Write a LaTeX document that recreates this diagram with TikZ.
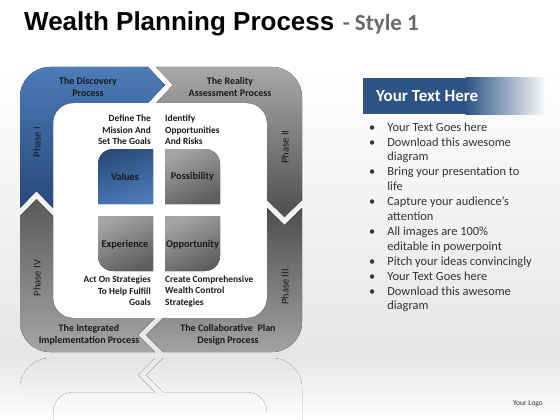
\documentclass[tikz,border=0pt]{standalone}
\usepackage{fontspec}
\setmainfont{Carlito}
\newfontfamily\titlefont{Liberation Sans}
\usepackage{tikz}
\usetikzlibrary{positioning}
\definecolor{inkdark}{HTML}{1A1A1A}
\definecolor{inkgray}{HTML}{333333}
\definecolor{titlegray}{HTML}{6A6A6A}
\definecolor{hdrblue}{HTML}{2E5385}
\definecolor{floorgray}{HTML}{E6E6E6}
\definecolor{blueA}{HTML}{4C7BB8}
\definecolor{blueB}{HTML}{28487A}
\definecolor{valuesA}{HTML}{2A4C7C}
\definecolor{valuesB}{HTML}{4C7AB8}
\definecolor{grayA}{HTML}{A8A8A8}
\definecolor{grayB}{HTML}{4E4E4E}
\definecolor{grayC}{HTML}{A2A2A2}
\definecolor{grayD}{HTML}{5A5A5A}
\definecolor{grayE}{HTML}{A5A5A5}
\definecolor{quadA}{HTML}{A4A4A4}
\definecolor{quadB}{HTML}{5E5E5E}
\tikzset{
  bandtext/.style={font=\bfseries\fontsize{10}{12.5}\selectfont, align=center, text=inkdark, inner sep=0pt},
  notetext/.style={font=\bfseries\fontsize{9.4}{11.5}\selectfont, text=inkdark, inner sep=0pt},
  quadtext/.style={font=\bfseries\fontsize{10.3}{12}\selectfont, text=inkdark, inner sep=0pt},
  phasetext/.style={font=\fontsize{10.5}{12}\selectfont, text=inkdark, rotate=90, inner sep=0pt}
}

\begin{document}
\begin{tikzpicture}[x=1pt, y=-1pt, line join=round]
    \useasboundingbox (0,0) rectangle (560,420);
    % backdrop
    \fill[top color=white, bottom color=floorgray] (0,60) rectangle (560,356);
    \fill[top color=floorgray, bottom color=white] (0,356) rectangle (560,420);
    % reflection of the lower half
    \fill[top color=gray!22, bottom color=white] (155,392) -- (138,375) -- (155,358) -- (50,358)
        arc[start angle=270, end angle=180, radius=30] -- (20,420) -- (53,420) -- (53,412)
        arc[start angle=180, end angle=270, radius=20] -- cycle;
    \fill[top color=gray!22, bottom color=white] (163,392) -- (146,375) -- (163,358) -- (272,358)
        arc[start angle=270, end angle=360, radius=30] -- (302,420) -- (267,420) -- (267,412)
        arc[start angle=0, end angle=-90, radius=20] -- cycle;
    % title
    \node[anchor=base west, inner sep=0pt] (title) at (24,31)
        {\titlefont\bfseries\fontsize{26}{30}\selectfont Wealth Planning Process};
    \node[anchor=base west, inner sep=0pt, text=titlegray] (style) at ([xshift=8pt]title.base east)
        {\bfseries\fontsize{23}{27}\selectfont - Style 1};
    % inner field
    \fill[white, rounded corners=20] (53,103) rectangle (267,318);
    % phase I
    \fill[top color=blueA, bottom color=blueB]
        (148,67) -- (165,85) -- (148,103) -- (73,103)
        arc[start angle=270, end angle=180, radius=20] -- (53,208) -- (36.5,191) -- (20,208) -- (20,97)
        arc[start angle=180, end angle=270, radius=30] -- cycle;
    % phase II
    \fill[top color=grayA, bottom color=grayB]
        (156,67) -- (173,85) -- (156,103) -- (247,103)
        arc[start angle=270, end angle=360, radius=20] -- (267,200) -- (284.5,217) -- (302,200) -- (302,97)
        arc[start angle=0, end angle=-90, radius=30] -- cycle;
    % phase III
    \fill[top color=grayB, bottom color=grayC]
        (302,208) -- (284.5,225) -- (267,208) -- (267,298)
        arc[start angle=0, end angle=90, radius=20] -- (163,318) -- (146,335) -- (163,352) -- (272,352)
        arc[start angle=90, end angle=0, radius=30] -- cycle;
    % phase IV
    \fill[top color=grayD, bottom color=grayE]
        (155,318) -- (138,335) -- (155,352) -- (50,352)
        arc[start angle=90, end angle=180, radius=30] -- (20,216) -- (36.5,199) -- (53,216) -- (53,298)
        arc[start angle=180, end angle=90, radius=20] -- cycle;
    % quadrants
    \fill[top color=valuesA, bottom color=valuesB, shading angle=20]
        (98,204) -- (98,164) arc[start angle=180, end angle=270, radius=15] -- (153,149) -- (153,204) -- cycle;
    \fill[top color=quadA, bottom color=quadB, shading angle=25]
        (165,204) -- (165,149) -- (205,149) arc[start angle=270, end angle=360, radius=15] -- (220,204) -- cycle;
    \fill[top color=quadA, bottom color=quadB, shading angle=25]
        (98,216) -- (153,216) -- (153,271) -- (113,271) arc[start angle=90, end angle=180, radius=15] -- cycle;
    \fill[top color=quadA, bottom color=quadB, shading angle=25]
        (165,216) -- (220,216) -- (220,256) arc[start angle=0, end angle=90, radius=15] -- (165,271) -- cycle;
    % band labels
    \node[bandtext] (discovery) at (88,87) {The Discovery\\Process};
    \node[bandtext] (reality) at (230,87) {The Reality\\Assessment Process};
    \node[bandtext] (integrated) at (89,335) {The Integrated\\Implementation Process};
    \node[bandtext] (collab) at (228,335) {The Collaborative\ \ Plan\\Design Process};
    \node[phasetext] (phaseI) at (37,142) {Phase I};
    \node[phasetext] (phaseII) at (285,147) {Phase II};
    \node[phasetext] (phaseIII) at (285,287) {Phase III};
    \node[phasetext] (phaseIV) at (37,278) {Phase IV};
    % quadrant labels
    \node[quadtext] (values) at (125,177) {Values};
    \node[quadtext] (possibility) at (192.5,177) {Possibility};
    \node[quadtext] (experience) at (125,245) {Experience};
    \node[quadtext] (opportunity) at (192.5,245) {Opportunity};
    % notes
    \node[notetext, align=right, anchor=east] (define) at (151,130) {Define The\\Mission And\\Set The Goals};
    \node[notetext, align=left, anchor=west] (identify) at (165,130) {Identify\\Opportunities\\And Risks};
    \node[notetext, align=right, anchor=east] (act) at (151,291) {Act On Strategies\\To Help Fulfill\\Goals};
    \node[notetext, align=left, anchor=west] (create) at (165,291) {Create Comprehensive\\Wealth Control\\Strategies};
    % text panel
    \fill[hdrblue] (363,78) rectangle (466,114);
    \fill[left color=hdrblue, right color=white] (465.5,78) rectangle (547,114);
    \node[anchor=west, inner sep=0pt, text=white, font=\bfseries\fontsize{17}{20}\selectfont] (header) at (376,96) {Your Text Here};
    \node[anchor=north west, inner sep=0pt, text=inkgray, font=\fontsize{12.4}{14.9}\selectfont] (bullets) at (369,120.5) {%
      \begin{tabular}{@{}c@{\hspace{12pt}}l@{}}
        \textbullet & Your Text Goes here\\
        \textbullet & Download this awesome\\
                    & diagram\\
        \textbullet & Bring your presentation to\\
                    & life\\
        \textbullet & Capture your audience’s\\
                    & attention\\
        \textbullet & All images are 100\%\\
                    & editable in powerpoint\\
        \textbullet & Pitch your ideas convincingly\\
        \textbullet & Your Text Goes here\\
        \textbullet & Download this awesome\\
                    & diagram
      \end{tabular}};
    \node[inner sep=0pt, text=inkgray, font=\fontsize{7.5}{9}\selectfont] (logo) at (528,404) {Your Logo};
\end{tikzpicture}
\end{document}
